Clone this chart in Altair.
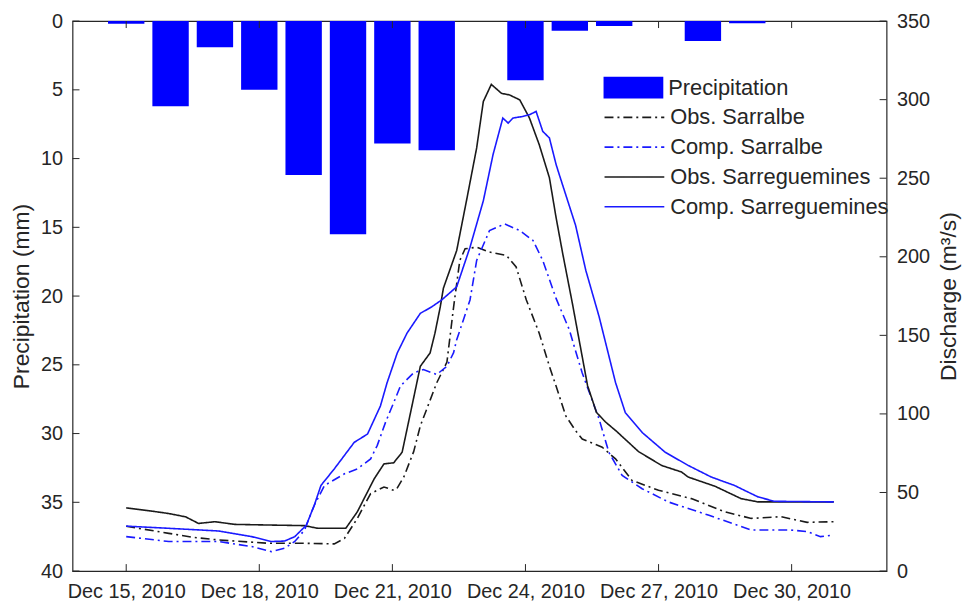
import altair as alt
import pandas as pd

FONT = "Liberation Sans"
TXT = "#262626"

# ---------------- data (day of December 2010) ----------------
precip_day = [15, 16, 17, 18, 19, 20, 21, 22, 23, 24, 25, 26, 27, 28, 29, 30, 31]
precip_mm = [0.2, 6.2, 1.9, 5.0, 11.2, 15.5, 8.9, 9.4, 0.0, 4.3, 0.7, 0.35, 0.0, 1.45, 0.15, 0.0, 0.0]

obs_sarralbe_t = [0, 0.96, 1.5, 2.08, 3.2, 3.94, 4.69, 4.92, 5.21, 5.51, 5.81, 6.03, 6.1, 6.26, 6.48,
                  6.63, 7.0, 7.23, 7.38, 7.52, 7.64, 7.9, 8.19, 8.57, 8.79, 9.02, 9.31, 9.54, 9.69,
                  9.91, 10.13, 10.28, 10.73, 11.03, 11.4, 12.0, 12.74, 13.49, 14.09, 14.76, 15.35, 15.95]
obs_sarralbe_q = [28.5, 24.0, 21.5, 19.8, 17.7, 17.7, 17.3, 20.8, 33.5, 49.3, 53.5, 51.4, 52.4, 60.0, 76.0,
                  92.4, 119.8, 133.0, 168.0, 197.7, 205.1, 206.1, 203.0, 200.9, 193.5, 172.5, 151.4, 130.3, 117.7,
                  98.7, 89.3, 84.0, 78.8, 71.4, 57.7, 51.4, 46.1, 37.7, 33.5, 34.6, 31.0, 31.4]

comp_sarralbe_t = [0, 0.96, 2.08, 2.83, 3.27, 3.57, 3.8, 4.02, 4.24, 4.47, 4.92, 5.21, 5.51, 5.66, 5.85,
                   6.1, 6.18, 6.48, 6.7, 7.0, 7.23, 7.38, 7.45, 7.6, 7.75, 7.9, 8.19, 8.53, 8.87, 9.17,
                   9.39, 9.69, 9.99, 10.13, 10.28, 10.66, 10.88, 11.18, 11.63, 12.22, 13.12, 14.09, 14.98,
                   15.35, 15.65, 15.95]
comp_sarralbe_q = [21.9, 18.8, 18.8, 15.6, 12.4, 14.5, 18.8, 26.1, 41.9, 54.5, 61.9, 65.0, 71.4, 80.0, 95.0,
                   112.0, 117.7, 126.2, 128.2, 125.1, 130.3, 139.0, 147.2, 159.8, 172.5, 197.7, 216.7, 220.9, 216.7, 210.4,
                   197.7, 173.5, 153.5, 140.0, 126.0, 96.7, 75.6, 60.8, 52.4, 44.0, 35.6, 26.1, 26.1,
                   25.1, 21.9, 22.9]

obs_sarreguemines_t = [0, 0.59, 0.96, 1.34, 1.63, 2.0, 2.45, 3.2, 4.02, 4.32, 4.95, 5.21, 5.59, 5.81, 6.03,
                       6.22, 6.41, 6.63, 6.85, 6.96, 7.08, 7.15, 7.45, 7.67, 7.9, 8.05, 8.23, 8.46, 8.64, 8.87,
                       9.09, 9.31, 9.54, 9.69, 9.84, 10.06, 10.4, 10.6, 10.8, 11.05, 11.55, 12.07, 12.52, 12.67,
                       13.27, 13.86, 14.24, 14.98, 15.95]
obs_sarreguemines_q = [40.2, 38.1, 36.6, 34.5, 30.3, 31.4, 29.7, 29.3, 28.9, 27.2, 27.2, 37.7, 58.7, 68.2, 68.9,
                       75.6, 100.9, 130.3, 138.8, 151.4, 168.2, 180.0, 204.0, 235.6, 269.3, 298.8, 309.7, 304.0, 303.0, 299.9,
                       288.3, 271.4, 250.3, 225.0, 202.0, 170.0, 118.0, 101.0, 95.0, 89.0, 76.0, 67.2, 63.0, 59.8,
                       54.0, 46.1, 44.0, 44.0, 44.0]

comp_sarreguemines_t = [0, 0.96, 2.08, 2.83, 3.27, 3.57, 3.8, 4.06, 4.24, 4.39, 4.69, 5.14, 5.44, 5.73, 5.88,
                        6.11, 6.33, 6.63, 6.89, 7.11, 7.45, 7.75, 8.05, 8.27, 8.49, 8.61, 8.72, 8.94, 9.09,
                        9.24, 9.39, 9.54, 9.69, 9.76, 10.13, 10.36, 10.66, 11.03, 11.25, 11.63, 12.15, 12.67,
                        13.19, 13.71, 14.24, 14.61, 15.95]
comp_sarreguemines_q = [28.6, 27.2, 25.5, 21.9, 18.8, 19.1, 21.9, 29.2, 41.9, 54.5, 65.0, 81.9, 87.2, 105.0, 119.8,
                        138.8, 151.4, 164.0, 168.2, 172.5, 180.9, 206.1, 235.6, 265.1, 288.3, 285.1, 288.3, 289.3, 290.4,
                        292.5, 279.8, 275.6, 258.8, 252.5, 220.0, 191.4, 161.9, 120.0, 100.9, 88.2, 75.6, 67.2,
                        59.8, 54.5, 47.2, 44.4, 44.0]

line_names = ["Obs. Sarralbe", "Comp. Sarralbe", "Obs. Sarreguemines", "Comp. Sarreguemines"]
line_colors = ["#1a1a1a", "#1a1aff", "#1a1a1a", "#1a1aff"]
line_dashes = [[9, 4, 2, 4], [9, 4, 2, 4], [1, 0], [1, 0]]
bar_color = "#0000ff"

x_ticks = [15, 18, 21, 24, 27, 30]
left_ticks = [0, 5, 10, 15, 20, 25, 30, 35, 40]
right_ticks = [0, 50, 100, 150, 200, 250, 300, 350]

# ---------------- tables ----------------
bars_df = pd.DataFrame({"t": precip_day, "precip": precip_mm, "series": "Precipitation"})

rows = []
for name, ts, qs in [("Obs. Sarralbe", obs_sarralbe_t, obs_sarralbe_q),
                     ("Comp. Sarralbe", comp_sarralbe_t, comp_sarralbe_q),
                     ("Obs. Sarreguemines", obs_sarreguemines_t, obs_sarreguemines_q),
                     ("Comp. Sarreguemines", comp_sarreguemines_t, comp_sarreguemines_q)]:
    for t, q in zip(ts, qs):
        rows.append({"t": 15 + t, "q": q, "series": name})
lines_df = pd.DataFrame(rows)

W, H = 820, 554
LBL = 20

x_scale = alt.Scale(domain=[13.79, 32.14], nice=False, zero=False)
x_axis = alt.Axis(values=x_ticks, labelExpr="'Dec ' + datum.value + ', 2010'", title=None,
                  tickSize=0, domain=False, grid=False, labelFontSize=LBL, labelPadding=11,
                  labelColor=TXT, labelFont=FONT, labelFlush=False, labelOverlap=False)

yl_scale = alt.Scale(domain=[0, 40], reverse=True, nice=False, zero=False)
yl_axis = alt.Axis(values=left_ticks, title="Precipitation (mm)", tickSize=0, domain=False, grid=False,
                   labelFontSize=LBL, labelPadding=10, labelColor=TXT, labelFont=FONT, labelFlush=False,
                   titleFontSize=23, titleFontWeight="normal", titleColor=TXT, titleFont=FONT, titlePadding=7)

yr_scale = alt.Scale(domain=[0, 350], nice=False, zero=False)
yr_axis = alt.Axis(values=right_ticks, title="Discharge (m³/s)", orient="right", tickSize=0, domain=False,
                   grid=False, labelFontSize=LBL, labelPadding=10, labelColor=TXT, labelFont=FONT,
                   labelFlush=False, titleFontSize=23, titleFontWeight="normal", titleColor=TXT,
                   titleFont=FONT, titlePadding=8, titleAngle=270, titleBaseline="top")

bar_legend = alt.Legend(
    title=None, orient="none", legendX=551, legendY=53, padding=0, rowPadding=0,
    symbolType="M-2.15,-0.78H2.15V0.78H-2.15Z", symbolSize=784, symbolStrokeWidth=0,
    labelOffset=21, labelFontSize=22, labelFont=FONT, labelColor=TXT, labelLimit=400,
)
line_legend = alt.Legend(
    title=None, orient="none", legendX=551, legendY=82, padding=0, rowPadding=4,
    symbolType="M-2.15,0H2.15", symbolSize=784, symbolStrokeWidth=1.6,
    labelOffset=21, labelFontSize=22, labelFont=FONT, labelColor=TXT, labelLimit=400,
)

bars = alt.Chart(bars_df).mark_rect(strokeWidth=0).transform_calculate(
    t0="datum.t - 0.41", t1="datum.t + 0.41", base="0"
).encode(
    x=alt.X("t0:Q", scale=x_scale, axis=x_axis),
    x2="t1:Q",
    y=alt.Y("precip:Q", scale=yl_scale, axis=yl_axis),
    y2="base:Q",
    fill=alt.Fill("series:N", scale=alt.Scale(domain=["Precipitation"], range=[bar_color]),
                  legend=bar_legend),
)

ltick_df = pd.DataFrame({"precip": left_ticks})
left_ticks_layer = alt.Chart(ltick_df).mark_rule(color=TXT, strokeWidth=1).encode(
    y=alt.Y("precip:Q", scale=yl_scale, axis=yl_axis), x=alt.value(0), x2=alt.value(7))

xtick_df = pd.DataFrame({"t0": x_ticks})
top_ticks = alt.Chart(xtick_df).mark_rule(color=TXT, strokeWidth=1).encode(
    x=alt.X("t0:Q", scale=x_scale, axis=x_axis), y=alt.value(0), y2=alt.value(7))
bottom_ticks = alt.Chart(xtick_df).mark_rule(color=TXT, strokeWidth=1).encode(
    x=alt.X("t0:Q", scale=x_scale, axis=x_axis), y=alt.value(H - 7), y2=alt.value(H))

left_group = alt.layer(bars, left_ticks_layer, top_ticks, bottom_ticks)

lines = alt.Chart(lines_df).mark_line(strokeWidth=1.6).encode(
    x=alt.X("t:Q", scale=x_scale, axis=x_axis),
    y=alt.Y("q:Q", scale=yr_scale, axis=yr_axis),
    stroke=alt.Stroke("series:N", scale=alt.Scale(domain=line_names, range=line_colors),
                      legend=line_legend, sort=line_names),
    strokeDash=alt.StrokeDash("series:N", scale=alt.Scale(domain=line_names, range=line_dashes),
                              legend=line_legend, sort=line_names),
)

rtick_df = pd.DataFrame({"q": right_ticks})
right_ticks_layer = alt.Chart(rtick_df).mark_rule(color=TXT, strokeWidth=1).encode(
    y=alt.Y("q:Q", scale=yr_scale, axis=yr_axis), x=alt.value(W - 7), x2=alt.value(W))

right_group = alt.layer(lines, right_ticks_layer)

chart = alt.layer(left_group, right_group).resolve_scale(y="independent").properties(
    width=W, height=H,
    padding={"left": 65, "top": 11, "right": 78, "bottom": 30},
    autosize=alt.AutoSizeParams(type="none"),
    background="white",
).configure_view(stroke=TXT, strokeWidth=1.2)

chart.save("out.html", embed_options={"renderer": "svg", "actions": False})
